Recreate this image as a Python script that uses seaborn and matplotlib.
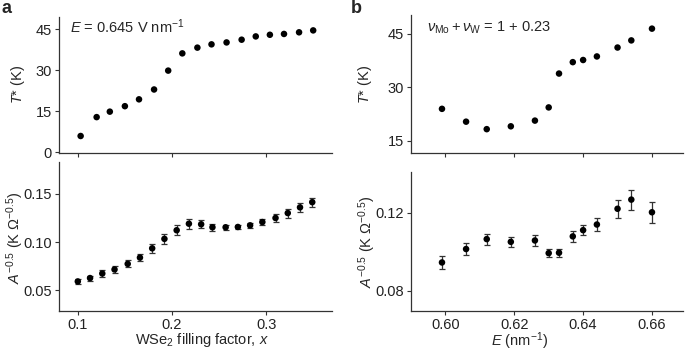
import numpy as np
import pandas as pd
import seaborn as sns
import matplotlib.pyplot as plt


# panel a, top: T* vs WSe2 filling factor
xa_top = [0.103, 0.120, 0.134, 0.150, 0.165, 0.181, 0.196, 0.211, 0.227, 0.242,
          0.258, 0.274, 0.289, 0.304, 0.319, 0.335, 0.350]
ta_top = [5.9, 12.8, 14.8, 16.8, 19.3, 22.9, 29.8, 36.1, 38.2, 39.4,
          40.1, 41.1, 42.3, 42.9, 43.2, 43.8, 44.5]

# panel a, bottom: A^-0.5 vs filling factor
xa_bot = [0.100, 0.113, 0.126, 0.139, 0.153, 0.166, 0.179, 0.192, 0.205, 0.218,
          0.231, 0.243, 0.257, 0.270, 0.283, 0.296, 0.310, 0.323, 0.336, 0.349]
aa_bot = [0.0593, 0.0628, 0.0675, 0.0717, 0.0775, 0.0840, 0.0936, 0.1034, 0.1123, 0.1191,
          0.1185, 0.1154, 0.1154, 0.1157, 0.1174, 0.1208, 0.1250, 0.1301, 0.1360, 0.1414]
ea_bot = [0.0022, 0.0026, 0.0032, 0.0033, 0.0036, 0.0038, 0.0044, 0.0052, 0.0050, 0.0050,
          0.0041, 0.0034, 0.0026, 0.0022, 0.0026, 0.0033, 0.0043, 0.0047, 0.0043, 0.0047]

# panel b: vs displacement field E
e_vals = [0.599, 0.606, 0.612, 0.619, 0.626, 0.630, 0.633, 0.637, 0.640, 0.644,
          0.650, 0.654, 0.660]
tb_top = [23.9, 20.3, 18.2, 19.0, 20.6, 24.3, 33.8, 37.0, 37.6, 38.6, 41.1, 43.1, 46.4]
ab_bot = [0.0945, 0.1014, 0.1065, 0.1051, 0.1058, 0.0993, 0.0995, 0.1079, 0.1111, 0.1140,
          0.1221, 0.1268, 0.1203]
eb_bot = [0.0035, 0.0033, 0.0028, 0.0027, 0.0027, 0.0022, 0.0021, 0.0027, 0.0026, 0.0032,
          0.0047, 0.0051, 0.0053]

sns.set_theme(style='ticks')
plt.rcParams['font.family'] = ['Liberation Sans', 'DejaVu Sans']
plt.rcParams['mathtext.fontset'] = 'custom'
plt.rcParams['mathtext.rm'] = 'Liberation Sans'
plt.rcParams['mathtext.it'] = 'Liberation Sans:italic'
plt.rcParams['mathtext.bf'] = 'Liberation Sans:bold'
plt.rcParams['font.size'] = 10
plt.rcParams['axes.edgecolor'] = '#333333'
plt.rcParams['axes.linewidth'] = 0.9
for k in ['xtick', 'ytick']:
    plt.rcParams[k + '.color'] = '#333333'
    plt.rcParams[k + '.labelcolor'] = '#222222'
    plt.rcParams[k + '.major.size'] = 3
    plt.rcParams[k + '.major.width'] = 0.8
    plt.rcParams[k + '.labelsize'] = 10.5
    plt.rcParams[k + '.major.pad'] = 2

fig = plt.figure(figsize=(6.85, 3.51), dpi=100)
ax_a1 = fig.add_axes([0.0861, 0.565, 0.3986, 0.3866])
ax_a2 = fig.add_axes([0.0861, 0.1148, 0.3986, 0.4237])
ax_b1 = fig.add_axes([0.600, 0.565, 0.397, 0.392])
ax_b2 = fig.add_axes([0.600, 0.1148, 0.397, 0.3952])


def dots(ax, x, y):
    df = pd.DataFrame({'x': x, 'y': y})
    sns.scatterplot(data=df, x='x', y='y', ax=ax, color='black', s=22,
                    edgecolor='none', zorder=3)
    ax.set(xlabel='', ylabel='')


def errs(ax, x, y, e):
    ax.errorbar(x, y, yerr=e, fmt='none', ecolor='#333333', elinewidth=0.9,
                capsize=2.2, capthick=0.9, zorder=2)


# panel a
dots(ax_a1, xa_top, ta_top)
ax_a1.set_xlim(0.080, 0.370)
ax_a1.set_ylim(-0.2, 49.4)
ax_a1.set_yticks([0, 15, 30, 45])
ax_a1.set_xticks([0.1, 0.2, 0.3])
ax_a1.set_xticklabels([])
ax_a1.set_ylabel('$T$* (K)', fontsize=10.5, labelpad=6)
ax_a1.text(0.04, 0.93, '$E$ = 0.645 V nm$^{-1}$', transform=ax_a1.transAxes,
           fontsize=10.5, va='center', ha='left')

errs(ax_a2, xa_bot, aa_bot, ea_bot)
dots(ax_a2, xa_bot, aa_bot)
ax_a2.set_xlim(0.080, 0.370)
ax_a2.set_ylim(0.029, 0.183)
ax_a2.set_yticks([0.05, 0.10, 0.15])
ax_a2.set_yticklabels(['0.05', '0.10', '0.15'])
ax_a2.set_xticks([0.1, 0.2, 0.3])
ax_a2.set_xticklabels(['0.1', '0.2', '0.3'])
ax_a2.set_xlabel('WSe$_2$ filling factor, $x$', fontsize=10.5)
ax_a2.set_ylabel('$A^{-0.5}$ (K \u03a9$^{-0.5}$)', fontsize=10.5)
ax_a2.xaxis.set_label_coords(0.525, -0.135)
ax_a2.yaxis.set_label_coords(-0.122, 0.49)

# panel b
dots(ax_b1, e_vals, tb_top)
ax_b1.set_xlim(0.590, 0.669)
ax_b1.set_ylim(11.6, 50.2)
ax_b1.set_yticks([15, 30, 45])
ax_b1.set_xticks([0.60, 0.62, 0.64, 0.66])
ax_b1.set_xticklabels([])
ax_b1.set_ylabel('$T$* (K)', fontsize=10.5, labelpad=10)
ax_b1.text(0.058, 0.91, r'$\nu_{\mathrm{Mo}}+\nu_{\mathrm{W}}$ = 1 + 0.23',
           transform=ax_b1.transAxes, fontsize=10.5, va='center', ha='left')

errs(ax_b2, e_vals, ab_bot, eb_bot)
dots(ax_b2, e_vals, ab_bot)
ax_b2.set_xlim(0.590, 0.669)
ax_b2.set_ylim(0.0697, 0.141)
ax_b2.set_yticks([0.08, 0.12])
ax_b2.set_yticklabels(['0.08', '0.12'])
ax_b2.set_xticks([0.60, 0.62, 0.64, 0.66])
ax_b2.set_xticklabels(['0.60', '0.62', '0.64', '0.66'])
ax_b2.set_xlabel('$E$ (nm$^{-1}$)', fontsize=10.5)
ax_b2.set_ylabel('$A^{-0.5}$ (K \u03a9$^{-0.5}$)', fontsize=10.5)
ax_b2.xaxis.set_label_coords(0.40, -0.145)
ax_b2.yaxis.set_label_coords(-0.122, 0.50)

for ax in [ax_a1, ax_a2, ax_b1, ax_b2]:
    sns.despine(ax=ax)

fig.text(0.002, 0.975, 'a', fontsize=13, fontweight='bold', va='center', ha='left')
fig.text(0.512, 0.975, 'b', fontsize=13, fontweight='bold', va='center', ha='left')

fig.savefig('out.png', dpi=100)
